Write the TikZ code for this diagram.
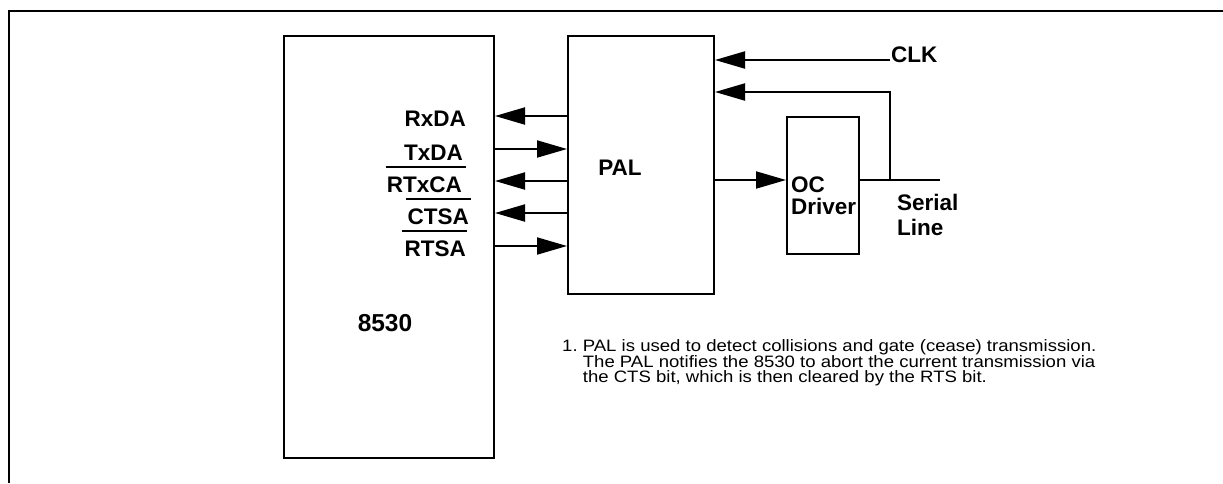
\documentclass[tikz,border=0pt]{standalone}
\usepackage{fontspec}
\setmainfont{Liberation Sans}
\newfontfamily\notefont[FakeStretch=1.125]{Liberation Sans}
\usetikzlibrary{arrows.meta}
\tikzset{
  box/.style={draw, line width=2pt, minimum width=#1, inner sep=0pt, anchor=north west},
  lbl/.style={font=\fontsize{22.5}{24}\selectfont\bfseries, inner sep=0pt},
  sig/.style={line width=2pt, -{Triangle[length=30pt,width=17pt]}},
  wire/.style={line width=2pt},
  bar/.style={line width=2pt},
  frame/.style={line width=2pt},
  note/.style={font=\notefont\fontsize{16.5}{14.7}\selectfont, inner sep=0pt, anchor=north west, align=left}
}
\begin{document}
\begin{tikzpicture}[x=1pt,y=-1pt]
\useasboundingbox (0,0) rectangle (1223,483);
% frame
\draw[frame] (9,483) -- (9,11) -- (1223,11);
% boxes
\node[box=210pt, minimum height=422pt] (chip) at (283,35) {};
\node[box=146pt, minimum height=258pt] (pal) at (567,35) {};
\node[box=72pt, minimum height=137pt] (oc) at (786,116) {};
% box labels
\node[lbl, font=\fontsize{24.5}{26}\selectfont\bfseries] (l8530) at (385,323) {8530};
\node[lbl] (lpal) at (620,168) {PAL};
\node[lbl, anchor=north west, align=left, font=\fontsize{22.5}{22}\selectfont\bfseries] (loc) at (791,177) {OC\\Driver};
% signal labels
\node[lbl, anchor=east] (rxda) at (466,118.5) {RxDA};
\node[lbl, anchor=east] (txda) at (463,152.5) {TxDA};
\node[lbl, anchor=east] (rtxca) at (462,185) {RTxCA};
\node[lbl, anchor=east] (ctsa) at (469,217) {CTSA};
\node[lbl, anchor=east] (rtsa) at (466,249) {RTSA};
\draw[bar] ([yshift=9.5pt,xshift=-1pt]rtxca.north west) -- ([yshift=9.5pt,xshift=4pt]rtxca.north east);
\draw[bar] ([yshift=9.5pt,xshift=-1pt]ctsa.north west) -- ([yshift=9.5pt,xshift=2pt]ctsa.north east);
\draw[bar] ([yshift=9.5pt,xshift=-2pt]rtsa.north west) -- ([yshift=9.5pt,xshift=1pt]rtsa.north east);
% signal arrows
\draw[sig] (pal.west |- 0,116) -- (chip.east |- 0,116);
\draw[sig] (chip.east |- 0,149) -- (pal.west |- 0,149);
\draw[sig] (pal.west |- 0,181) -- (chip.east |- 0,181);
\draw[sig] (pal.west |- 0,213) -- (chip.east |- 0,213);
\draw[sig] (chip.east |- 0,246) -- (pal.west |- 0,246);
% right side
\coordinate (clkend) at (890,60);
\coordinate (tap) at (890,180);
\coordinate (lineend) at (940,180);
\node[lbl, anchor=west] (clk) at (891,54.5) {CLK};
\draw[sig] (clkend) -- (pal.east |- clkend);
\draw[sig] (tap) -- (890,92) -- (pal.east |- 0,92);
\draw[sig] (pal.east |- 0,180) -- (oc.west |- 0,180);
\draw[wire] (oc.east |- 0,180) -- (lineend);
\node[lbl, anchor=north west, align=left, font=\fontsize{22.5}{25}\selectfont\bfseries] (serial) at (897,194) {Serial\\Line};
% note
\node[note] (n) at (562,339) {1.\ PAL is used to detect collisions and gate (cease) transmission.\\
\hphantom{1.\ }The PAL notifies the 8530 to abort the current transmission via\\
\hphantom{1.\ }the CTS bit, which is then cleared by the RTS bit.};
\end{tikzpicture}
\end{document}
